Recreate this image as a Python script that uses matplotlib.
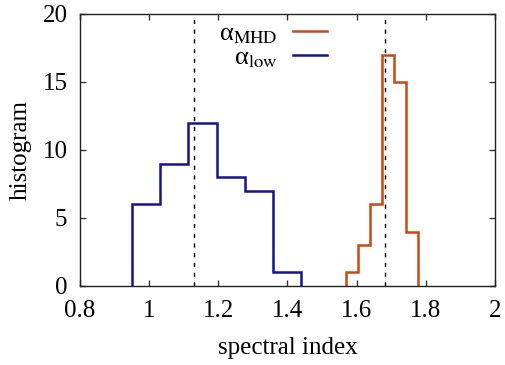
import matplotlib.pyplot as plt
import numpy as np

plt.rcParams['font.family'] = ['Liberation Serif', 'DejaVu Serif']
plt.rcParams['mathtext.fontset'] = 'stix'

# bin edges and counts of the two spectral index distributions
low_edges = [0.950, 1.032, 1.113, 1.195, 1.277, 1.358, 1.440]
low_counts = [6, 9, 12, 8, 7, 1]
mhd_edges = [1.569, 1.603, 1.639, 1.673, 1.707, 1.742, 1.777]
mhd_counts = [1, 3, 6, 17, 15, 4]
# reference values marked by dashed lines
low_mark = 1.130
mhd_mark = 1.681

xticks = [0.8, 1.0, 1.2, 1.4, 1.6, 1.8, 2.0]
xticklabels = ['0.8', '1', '1.2', '1.4', '1.6', '1.8', '2']
yticks = [0, 5, 10, 15, 20]

c_mhd = '#c84a12'
c_low = '#14148c'

fig = plt.figure(figsize=(5.06, 3.65), dpi=100)
ax = fig.add_axes([80/506, 1-286/365, 415/506, 272/365])

ax.stairs(mhd_counts, mhd_edges, baseline=0, color=c_mhd, lw=1.8, label='α$_{\\rm MHD}$')
ax.stairs(low_counts, low_edges, baseline=0, color=c_low, lw=1.8, label='α$_{\\rm low}$')

ax.axvline(low_mark, color='black', ls=(0, (3, 4)), lw=1)
ax.axvline(mhd_mark, color='black', ls=(0, (3, 4)), lw=1)

ax.set_xlim(0.8, 2.0)
ax.set_ylim(0, 20)
ax.set_xticks(xticks)
ax.set_xticklabels(xticklabels)
ax.set_yticks(yticks)
ax.tick_params(direction='in', length=4, width=1, top=True, right=True,
               labelsize=18, color='#333333')
ax.tick_params(axis='x', pad=10)
ax.tick_params(axis='y', pad=9)
for s in ax.spines.values():
    s.set_linewidth(1)
    s.set_color('#222222')

ax.set_xlabel('spectral index', fontsize=18, labelpad=11)
ax.set_ylabel('histogram', fontsize=18, labelpad=8)

leg = ax.legend(loc='upper left', bbox_to_anchor=(0.31, 1.01), frameon=False,
                markerfirst=False, fontsize=19, handlelength=1.3,
                handletextpad=0.57, labelspacing=0.0, borderaxespad=0)
for t in leg.get_texts():
    t.set_ha('right')

fig.savefig('out.png', dpi=100)
